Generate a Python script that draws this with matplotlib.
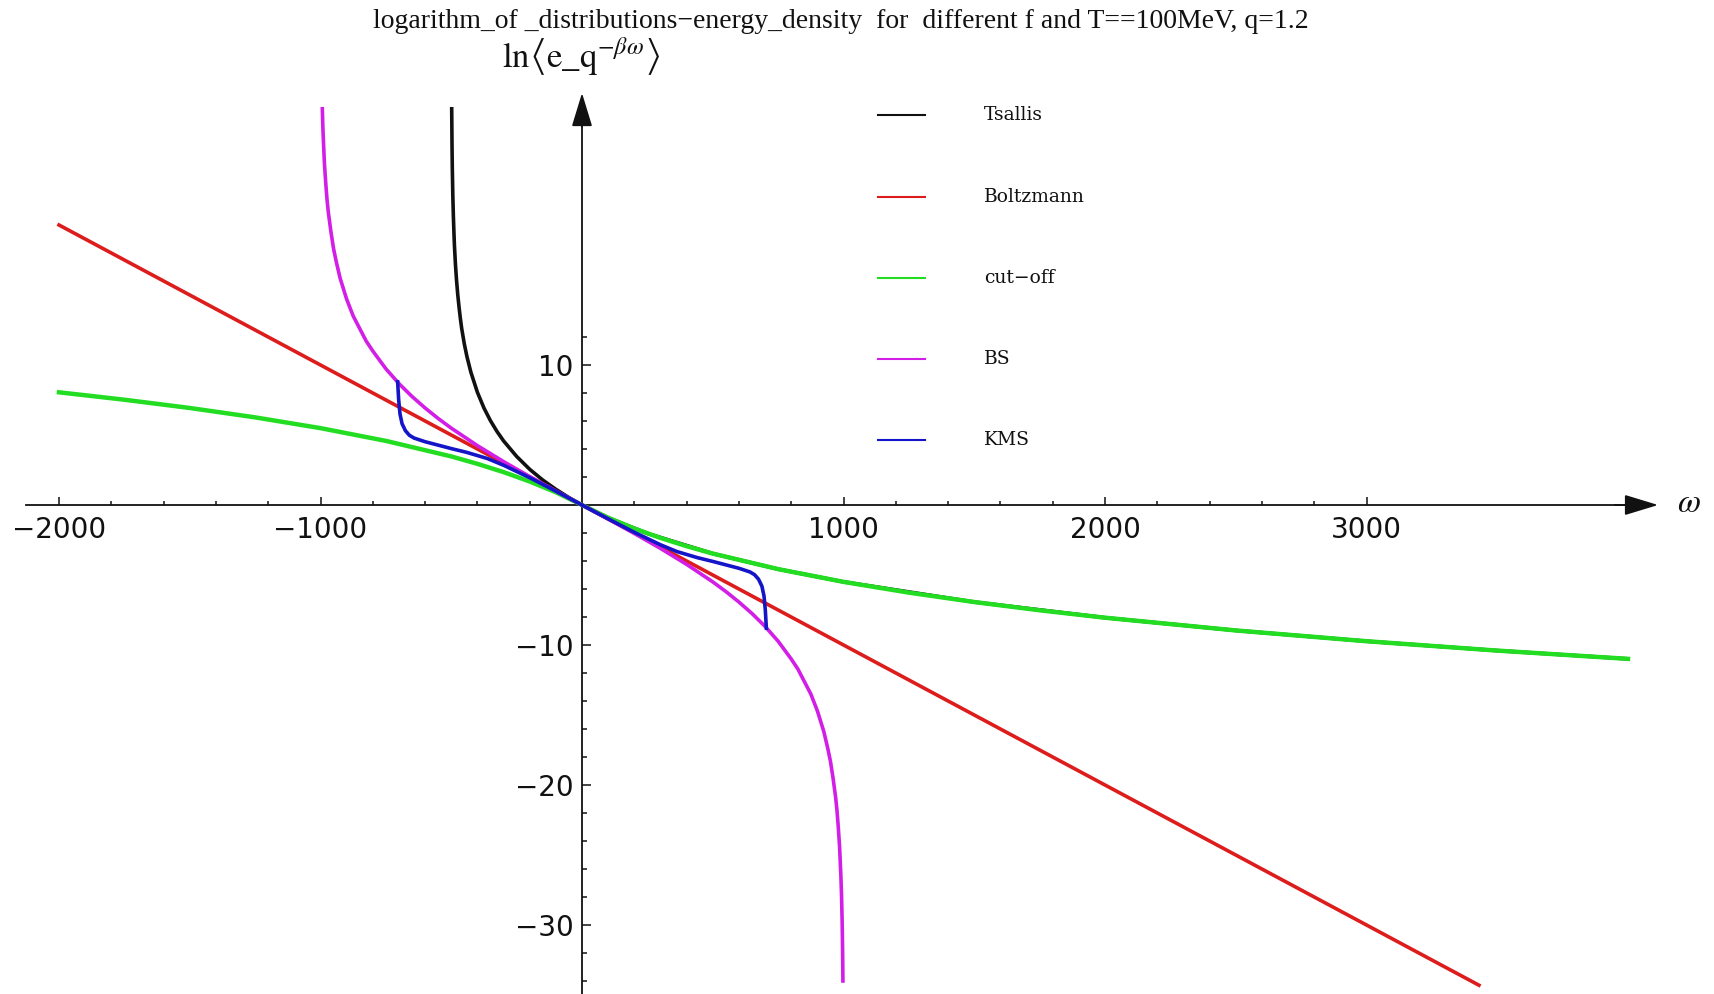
import numpy as np
import matplotlib
matplotlib.use("Agg")
import matplotlib.pyplot as plt

plt.rcParams['mathtext.fontset'] = 'stix'

# values (omega in MeV, y = ln of distribution)
w_tsallis = [-498.3, -497, -496, -494, -492, -490, -488, -484, -480, -475, -470, -465,
             -460, -450, -440, -425, -400, -375, -350, -325, -300, -250, -200, -150,
             -100, -50, 0, 100, 250, 500, 750, 1000, 1500, 2000, 2500, 3000, 3500, 4000]
y_tsallis = [28.3, 25.6, 24.1, 22.1, 20.7, 19.6, 18.6, 17.2, 16.1, 15.0, 14.1, 13.3,
             12.6, 11.5, 10.6, 9.49, 8.05, 6.93, 6.02, 5.25, 4.58, 3.47, 2.55, 1.78,
             1.12, 0.53, 0.0, -0.91, -2.03, -3.47, -4.58, -5.49, -6.93, -8.05, -8.96,
             -9.73, -10.40, -10.99]

w_boltz = [-2000, 3430]
y_boltz = [20.0, -34.3]

w_cut = [-2000, -1750, -1500, -1250, -1000, -750, -500, -400, -300, -200, -100, 0,
         100, 200, 300, 400, 500, 750, 1000, 1250, 1500, 1750, 2000, 2500, 3000, 3500, 4000]
y_cut = [8.05, 7.52, 6.93, 6.26, 5.49, 4.58, 3.47, 2.94, 2.35, 1.68, 0.91, 0.0,
         -0.91, -1.68, -2.35, -2.94, -3.47, -4.58, -5.49, -6.26, -6.93, -7.52, -8.05,
         -8.96, -9.73, -10.40, -10.99]

w_bs = [-993, -991, -990, -985, -980, -975, -970, -960, -950, -940, -925, -900, -875,
        -850, -825, -800, -750, -700, -650, -600, -550, -500, -400, -300, -200, -100, 0,
        100, 200, 300, 400, 500, 550, 600, 650, 700, 750, 800, 825, 850, 875, 900, 925,
        940, 950, 960, 970, 975, 980, 985, 990, 992.5, 995, 996.5, 997.8]
y_bs = [28.3, 27.0, 26.5, 24.4, 23.0, 21.8, 20.9, 19.5, 18.3, 17.4, 16.2, 14.7, 13.5,
        12.6, 11.7, 11.0, 9.73, 8.67, 7.75, 6.93, 6.18, 5.49, 4.24, 3.10, 2.03, 1.00, 0.0,
        -1.00, -2.03, -3.10, -4.24, -5.49, -6.18, -6.93, -7.75, -8.67, -9.73, -11.0,
        -11.7, -12.6, -13.5, -14.7, -16.2, -17.4, -18.3, -19.5, -20.9, -21.8, -23.0,
        -24.4, -26.5, -27.9, -29.9, -31.7, -34.0]

w_kms = [-705, -701, -696, -688, -675, -660, -642, -600, -553, -500, -441, -362, -300,
         -200, -100, 0, 100, 200, 300, 362, 441, 500, 553, 600, 642, 660, 675, 688, 696,
         701, 705]
y_kms = [8.8, 7.5, 6.5, 5.8, 5.3, 4.98, 4.78, 4.52, 4.29, 4.03, 3.76, 3.32, 2.84,
         1.95, 0.99, 0.0, -0.99, -1.95, -2.84, -3.32, -3.76, -4.03, -4.29, -4.52, -4.78,
         -4.98, -5.3, -5.8, -6.5, -7.5, -8.8]

names = ['Tsallis', 'Boltzmann', 'cut\u2212off', 'BS', 'KMS']
colors = ['#111111', '#dd1c1c', '#22dd22', '#d21ee6', '#1414c8']

x_major = [-2000, -1000, 1000, 2000, 3000]
x_minor = [v for v in range(-2000, 3001, 200) if v != 0]
y_major = [-30, -20, -10, 10]
y_minor = [v for v in range(-34, 13, 2) if v != 0]

W, H = 1714, 994
fig = plt.figure(figsize=(W / 100, H / 100), dpi=100)
ax = fig.add_axes([0, 0, 1, 1])
# pixel mapping: x0 = 582 px, 0.2615 px per MeV ; y0 = 505 px, 14 px per unit
ax.set_xlim(-582 / 0.2615, (W - 582) / 0.2615)
ax.set_ylim(-(H - 505) / 14, 505 / 14)

lw = 2.6
ax.plot(w_tsallis, y_tsallis, color=colors[0], lw=lw, zorder=3)
ax.plot(w_boltz, y_boltz, color=colors[1], lw=lw, zorder=4)
ax.plot(w_cut, y_cut, color=colors[2], lw=lw + 0.6, zorder=5)
ax.plot(w_bs, y_bs, color=colors[3], lw=lw, zorder=6)
ax.plot(w_kms, y_kms, color=colors[4], lw=lw, zorder=7)

# axes through the origin
for s in ['top', 'right']:
    ax.spines[s].set_visible(False)
ax.spines['left'].set_position(('data', 0))
ax.spines['bottom'].set_position(('data', 0))
ax.spines['left'].set_bounds(-(H - 505) / 14, 27.5)
ax.spines['bottom'].set_bounds(-2126, 4000)
for s in ['left', 'bottom']:
    ax.spines[s].set_linewidth(1.3)
    ax.spines[s].set_color('#111111')

ax.set_xticks(x_major)
ax.set_xticks(x_minor, minor=True)
ax.set_yticks(y_major)
ax.set_yticks(y_minor, minor=True)
ax.tick_params(which='both', direction='in', width=1.1, color='#111111',
               labelsize=20, labelcolor='#111111')
ax.tick_params(axis='x', which='major', length=5.5, pad=8)
ax.tick_params(axis='x', which='minor', length=3)
ax.tick_params(axis='y', which='major', length=6.5, pad=6)
ax.tick_params(axis='y', which='minor', length=3.5)

arrow = dict(arrowstyle='-|>,head_length=1.05,head_width=0.32', color='#111111',
             lw=1.3, shrinkA=0, shrinkB=0, mutation_scale=20)
ax.annotate('', xy=(4115, 0), xytext=(3950, 0), arrowprops=arrow)
ax.annotate('', xy=(0, 29.43), xytext=(0, 27.0), arrowprops=arrow)

# texts
fig.text(841 / W, 1 - 22 / H,
         'logarithm_of _distributions\u2212energy_density  for  different f and T==100MeV, q=1.2',
         ha='center', va='center', fontsize=20, family='Liberation Serif', color='#111111')
fig.text(581 / W, 1 - 57 / H, r'$\mathrm{ln}\left\langle \mathrm{e\_q}^{-\beta\omega}\right\rangle$',
         ha='center', va='center', fontsize=25, color='#111111')
fig.text(1689 / W, 1 - 503 / H, r'$\omega$', ha='center', va='center', fontsize=24,
         color='#111111')

# legend
leg_y = [115, 197, 278, 359, 440]
for name, c, py in zip(names, colors, leg_y):
    ax.plot([878 / W, 925 / W], [1 - py / H, 1 - py / H], color=c, lw=1.5,
            transform=ax.transAxes, clip_on=False)
    ax.text(984 / W, 1 - py / H, name, transform=ax.transAxes, ha='left', va='center',
            fontsize=13.5, family='DejaVu Serif', color='#111111')

fig.savefig('out.png', dpi=100)
